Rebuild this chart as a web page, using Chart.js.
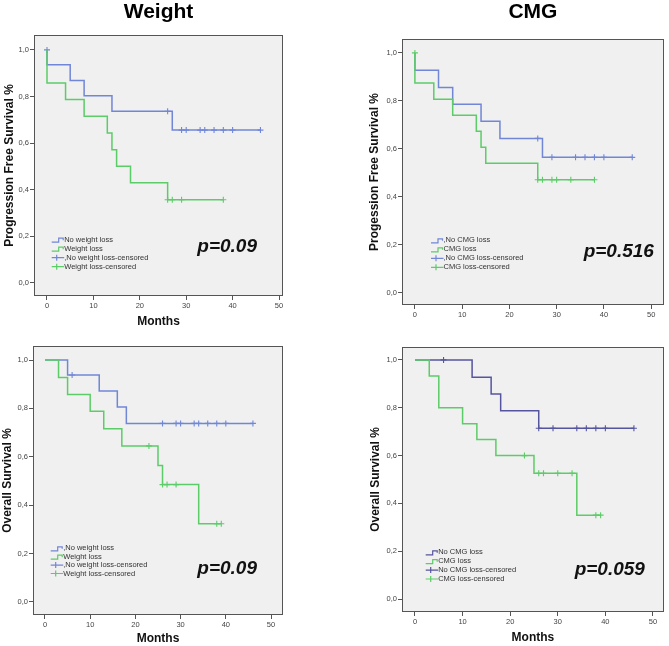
<!DOCTYPE html>
<html>
<head>
<meta charset="utf-8">
<script src="https://cdn.jsdelivr.net/npm/chart.js@4.4.1/dist/chart.umd.min.js"></script>
<style>
  html, body { margin: 0; padding: 0; background: #fff; }
  #wrap { position: relative; width: 669px; height: 646px; overflow: hidden; }
  canvas { position: absolute; }
</style>
</head>
<body>
<div id="wrap">
  <canvas id="c1" width="335" height="330" style="left:0px;top:0px"></canvas>
  <canvas id="c2" width="334" height="330" style="left:335px;top:0px"></canvas>
  <canvas id="c3" width="335" height="316" style="left:0px;top:330px"></canvas>
  <canvas id="c4" width="334" height="316" style="left:335px;top:330px"></canvas>
</div>
<script>
// axis ticks
const xTicks = [0, 10, 20, 30, 40, 50];
const yTicks = [0, 0.2, 0.4, 0.6, 0.8, 1.0];
const yTickLabels = ["0,0", "0,2", "0,4", "0,6", "0,8", "1,0"];

// Progression free survival, weight loss
const pfsNoWeightTimes = [0, 5, 8, 14, 27];
const pfsNoWeightSurv = [0.936, 0.869, 0.803, 0.737, 0.656];
const pfsNoWeightCensor = [0, 26, 29, 30, 33, 34, 36, 38, 40, 46];
const pfsWeightTimes = [0, 4, 8, 13, 14, 15, 18, 26];
const pfsWeightSurv = [0.858, 0.787, 0.715, 0.643, 0.572, 0.501, 0.43, 0.357];
const pfsWeightCensor = [26, 27, 29, 38];

// Progression free survival, CMG loss
const pfsNoCmgTimes = [0, 5, 8, 14, 18, 27];
const pfsNoCmgSurv = [0.928, 0.856, 0.786, 0.715, 0.644, 0.565];
const pfsNoCmgCensor = [26, 29, 34, 36, 38, 40, 46];
const pfsCmgTimes = [0, 4, 8, 13, 14, 15, 26];
const pfsCmgSurv = [0.875, 0.807, 0.74, 0.674, 0.607, 0.54, 0.472];
const pfsCmgCensor = [0, 26, 27, 29, 30, 33, 38];

// Overall survival, weight loss
const osNoWeightTimes = [5, 12, 16, 18];
const osNoWeightSurv = [0.938, 0.872, 0.806, 0.738];
const osNoWeightCensor = [6, 26, 29, 30, 33, 34, 36, 38, 40, 46];
const osWeightTimes = [3, 5, 10, 13, 17, 25, 26, 34];
const osWeightSurv = [0.928, 0.858, 0.788, 0.716, 0.645, 0.564, 0.485, 0.323];
const osWeightCensor = [23, 26, 27, 29, 38, 39];

// Overall survival, CMG loss
const osNoCmgTimes = [12, 16, 18, 26];
const osNoCmgSurv = [0.928, 0.857, 0.787, 0.714];
const osNoCmgCensor = [6, 26, 29, 34, 36, 38, 40, 46];
const osCmgTimes = [3, 5, 10, 13, 17, 25, 34];
const osCmgSurv = [0.933, 0.8, 0.733, 0.667, 0.6, 0.526, 0.351];
const osCmgCensor = [23, 26, 27, 30, 33, 38, 39];

const FONT = '"Liberation Sans", Arial, sans-serif';
const BLUE = "#7186d6";
const NAVY = "#55559f";
const GREEN = "#5ccc68";

// survival level at time t (events at t count, except at the origin)
function survAt(times, surv, t) {
  let s = 1;
  times.forEach((tt, i) => {
    if (tt < t || (tt === t && t > 0)) s = surv[i];
  });
  return s;
}

function kmPoints(times, surv, censor) {
  const pts = [{ x: 0, y: 1 }];
  times.forEach((t, i) => pts.push({ x: t, y: surv[i] }));
  const end = Math.max(...censor, ...times);
  pts.push({ x: end, y: survAt(times, surv, end) });
  return pts;
}

const decor = {
  id: "decor",
  beforeDraw(chart) {
    const { ctx, chartArea: a } = chart;
    ctx.save();
    ctx.fillStyle = "#f0f0f0";
    ctx.fillRect(a.left, a.top, a.right - a.left, a.bottom - a.top);
    ctx.restore();
  },
  afterDraw(chart, args, opts) {
    const { ctx, chartArea: a } = chart;
    ctx.save();
    ctx.strokeStyle = "#555";
    ctx.lineWidth = 1;
    ctx.strokeRect(Math.round(a.left) + 0.5, Math.round(a.top) + 0.5,
      Math.round(a.right - a.left) - 1, Math.round(a.bottom - a.top) - 1);

    // legend
    const lg = opts.legend;
    lg.items.forEach((e, i) => {
      const x = a.left + lg.dx;
      const y = a.top + lg.dy + i * lg.gap;
      ctx.strokeStyle = e.color;
      ctx.lineWidth = 1.2;
      ctx.beginPath();
      if (e.kind === "step") {
        ctx.moveTo(x, y + 2.5);
        ctx.lineTo(x + 7, y + 2.5);
        ctx.lineTo(x + 7, y - 1.5);
        ctx.lineTo(x + 11.5, y - 1.5);
        ctx.lineTo(x + 11.5, y + 0.5);
      } else {
        ctx.moveTo(x, y);
        ctx.lineTo(x + 12.5, y);
        ctx.moveTo(x + 5, y - 3);
        ctx.lineTo(x + 5, y + 3);
      }
      ctx.stroke();
      ctx.fillStyle = "#333";
      ctx.font = "7.5px " + FONT;
      ctx.textBaseline = "middle";
      ctx.textAlign = "left";
      ctx.fillText(e.text, x + 12.5, y);
    });

    // p value
    ctx.fillStyle = "#111";
    ctx.font = "italic bold 19px " + FONT;
    ctx.textAlign = "right";
    ctx.textBaseline = "alphabetic";
    ctx.fillText(opts.p.text, a.right + opts.p.dx, a.top + opts.p.dy);
    ctx.restore();
  }
};

function makeChart(id, cfg) {
  const [g1, g2] = cfg.groups;
  const datasets = [];
  // green drawn on top -> put first
  [g2, g1].forEach(g => {
    datasets.push({
      type: "line",
      label: g.legend,
      data: kmPoints(g.times, g.surv, g.censor),
      borderColor: g.color,
      borderWidth: 1.5,
      pointRadius: 0,
      stepped: true,
      fill: false,
      tension: 0
    });
    datasets.push({
      type: "scatter",
      label: g.censLegend,
      data: g.censor.map(t => ({ x: t, y: survAt(g.times, g.surv, t) })),
      pointStyle: "cross",
      pointRadius: 3,
      borderColor: g.color,
      borderWidth: 1.1,
      showLine: false
    });
  });

  new Chart(document.getElementById(id), {
    data: { datasets },
    options: {
      responsive: false,
      animation: false,
      layout: { padding: { top: cfg.padT, right: cfg.padR, left: 0, bottom: 0 } },
      plugins: {
        legend: { display: false },
        tooltip: { enabled: false },
        title: {
          display: !!cfg.title,
          text: cfg.title,
          fullSize: false,
          color: "#000",
          font: { family: FONT, size: 21, weight: "bold" },
          padding: { top: 0, bottom: cfg.titlePadB || 0 }
        },
        decor: {
          legend: {
            dx: cfg.lg[0], dy: cfg.lg[1], gap: cfg.lg[2],
            items: [
              { text: g1.legend, color: g1.color, kind: "step" },
              { text: g2.legend, color: g2.color, kind: "step" },
              { text: g1.censLegend, color: g1.color, kind: "cross" },
              { text: g2.censLegend, color: g2.color, kind: "cross" }
            ]
          },
          p: { text: cfg.p, dx: cfg.pPos[0], dy: cfg.pPos[1] }
        }
      },
      scales: {
        x: {
          type: "linear",
          min: cfg.xRange[0],
          max: cfg.xRange[1],
          afterBuildTicks: s => { s.ticks = xTicks.map(v => ({ value: v })); },
          afterFit: s => { s.height = cfg.xAxisH; },
          border: { display: false },
          grid: { drawOnChartArea: false, drawTicks: true, tickLength: 4, color: "#555" },
          ticks: { color: "#444", font: { family: FONT, size: 7.5 }, padding: 1, maxRotation: 0, autoSkip: false },
          title: {
            display: cfg.months,
            text: "Months",
            color: "#111",
            font: { family: FONT, size: 12, weight: "bold" },
            padding: { top: 0, bottom: cfg.monthsPadB || 0 }
          }
        },
        y: {
          type: "linear",
          min: cfg.yRange[0],
          max: cfg.yRange[1],
          afterBuildTicks: s => { s.ticks = yTicks.map(v => ({ value: v })); },
          afterFit: s => { s.width = cfg.yAxisW; },
          border: { display: false },
          grid: { drawOnChartArea: false, drawTicks: true, tickLength: 4, color: "#555" },
          ticks: {
            color: "#444", font: { family: FONT, size: 7.5 }, padding: 1, autoSkip: false,
            callback: (v, i) => yTickLabels[i]
          },
          title: {
            display: true,
            text: cfg.yTitle,
            color: "#111",
            font: { family: FONT, size: 12, weight: "bold" },
            padding: { top: cfg.yTitlePad, bottom: 0 }
          }
        }
      }
    },
    plugins: [decor]
  });
}

makeChart("c1", {
  title: "Weight", titlePadB: 9.8, padT: 0, padR: 52,
  yAxisW: 34, xAxisH: 34, xRange: [-2.8, 50.86], yRange: [-0.056, 1.064],
  yTitle: "Progression Free Survival %", yTitlePad: 2.8, months: true, monthsPadB: 0.8,
  groups: [
    { legend: "No weight loss", censLegend: ",No weight loss-censored", color: BLUE,
      times: pfsNoWeightTimes, surv: pfsNoWeightSurv, censor: pfsNoWeightCensor },
    { legend: "Weight loss", censLegend: "Weight loss-censored", color: GREEN,
      times: pfsWeightTimes, surv: pfsWeightSurv, censor: pfsWeightCensor }
  ],
  lg: [17.7, 204.7, 9], p: "p=0.09", pPos: [-26, 217]
});
makeChart("c2", {
  title: "CMG", titlePadB: 13.8, padT: 0, padR: 3,
  yAxisW: 67, xAxisH: 25, xRange: [-2.73, 52.7], yRange: [-0.05, 1.058],
  yTitle: "Progession Free Survival %", yTitlePad: 32.8, months: false,
  groups: [
    { legend: ",No CMG loss", censLegend: ",No CMG loss-censored", color: BLUE,
      times: pfsNoCmgTimes, surv: pfsNoCmgSurv, censor: pfsNoCmgCensor },
    { legend: "CMG loss", censLegend: "CMG loss-censored", color: GREEN,
      times: pfsCmgTimes, surv: pfsCmgSurv, censor: pfsCmgCensor }
  ],
  lg: [29, 201.3, 9], p: "p=0.516", pPos: [-10, 217.7]
});
makeChart("c3", {
  title: "", padT: 16, padR: 52,
  yAxisW: 33, xAxisH: 31, xRange: [-2.65, 52.65], yRange: [-0.054, 1.058],
  yTitle: "Overall Survival %", yTitlePad: 0.8, months: true, monthsPadB: 0,
  groups: [
    { legend: ",No weight loss", censLegend: ",No weight loss-censored", color: BLUE,
      times: osNoWeightTimes, surv: osNoWeightSurv, censor: osNoWeightCensor },
    { legend: "Weight loss", censLegend: "Weight loss-censored", color: GREEN,
      times: osWeightTimes, surv: osWeightSurv, censor: osWeightCensor }
  ],
  lg: [17.7, 202.3, 8.4], p: "p=0.09", pPos: [-26, 228]
});
makeChart("c4", {
  title: "", padT: 17, padR: 5,
  yAxisW: 67, xAxisH: 34, xRange: [-2.73, 52.3], yRange: [-0.054, 1.054],
  yTitle: "Overall Survival %", yTitlePad: 33.5, months: true, monthsPadB: 0.8,
  groups: [
    { legend: "No CMG loss", censLegend: "No CMG loss-censored", color: NAVY,
      times: osNoCmgTimes, surv: osNoCmgSurv, censor: osNoCmgCensor },
    { legend: "CMG loss", censLegend: "CMG loss-censored", color: GREEN,
      times: osCmgTimes, surv: osCmgSurv, censor: osCmgCensor }
  ],
  lg: [23.7, 205.3, 8.9], p: "p=0.059", pPos: [-19, 228]
});
</script>
</body>
</html>
